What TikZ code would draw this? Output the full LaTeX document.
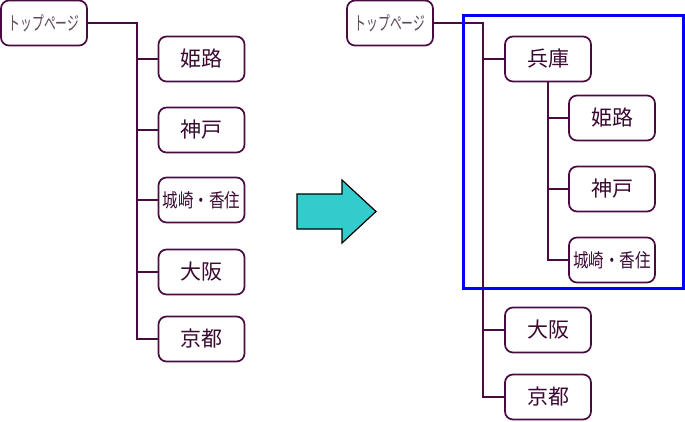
\documentclass[tikz,border=0pt]{standalone}
\usepackage{fontspec}
\newfontfamily\jp{Noto Sans CJK JP}
\definecolor{ink}{HTML}{4A0B40}
\definecolor{txt}{HTML}{3A0A32}
\definecolor{toptxt}{HTML}{5E4A5A}
\definecolor{arrowfill}{HTML}{33CCCC}
\definecolor{frame}{HTML}{0000FF}
\begin{document}
\begin{tikzpicture}[x=1pt,y=-1pt,
  box/.style={draw=ink,line width=1.7pt,rounded corners=8pt,fill=white,
    minimum width=86pt,minimum height=45pt,inner sep=0pt,text=txt,
    font=\jp\fontsize{21}{21}\selectfont},
  topbox/.style={box,text=toptxt},
  conn/.style={draw=ink,line width=1.8pt}]
\useasboundingbox (0,0) rectangle (685,421);
% left tree
\node[topbox] (LT) at (44,23) {\scalebox{0.62}[1]{\fontsize{19}{19}\selectfont トップページ}};
\node[box] (L1) at (201.5,59) {姫路};
\node[box] (L2) at (201.5,130) {神戸};
\node[box] (L3) at (201.5,200) {\scalebox{0.82}[1]{\fontsize{19}{19}\selectfont 城崎・香住}};
\node[box] (L4) at (201.5,272) {大阪};
\node[box] (L5) at (201.5,339) {京都};
\coordinate (LK) at (137,23);
\draw[conn] (LT.east) -- (LK) |- (L5.west);
\foreach \n in {L1,L2,L3,L4} \draw[conn] (LK |- \n.west) -- (\n.west);
% arrow
\draw[fill=arrowfill,draw=black,line width=1.2pt,line join=miter]
  (297,194) -- (342,194) -- (342,180) -- (376,211.5) -- (342,243) -- (342,229) -- (297,229) -- cycle;
% right tree
\node[topbox] (RT) at (390,23) {\scalebox{0.62}[1]{\fontsize{19}{19}\selectfont トップページ}};
\node[box] (RH) at (548,59) {兵庫};
\node[box] (R1) at (612,118) {姫路};
\node[box] (R2) at (612,189) {神戸};
\node[box] (R3) at (612,260) {\scalebox{0.82}[1]{\fontsize{19}{19}\selectfont 城崎・香住}};
\node[box] (R4) at (548,330) {大阪};
\node[box] (R5) at (548,397) {京都};
\coordinate (RK) at (483,23);
\draw[conn] (RT.east) -- (RK) |- (R5.west);
\foreach \n in {RH,R4} \draw[conn] (RK |- \n.west) -- (\n.west);
\draw[conn] (RH.south) |- (R3.west);
\foreach \n in {R1,R2} \draw[conn] (RH.south |- \n.west) -- (\n.west);
% highlight frame
\draw[frame,line width=3pt] (463,15) rectangle (683,288);
\end{tikzpicture}
\end{document}
